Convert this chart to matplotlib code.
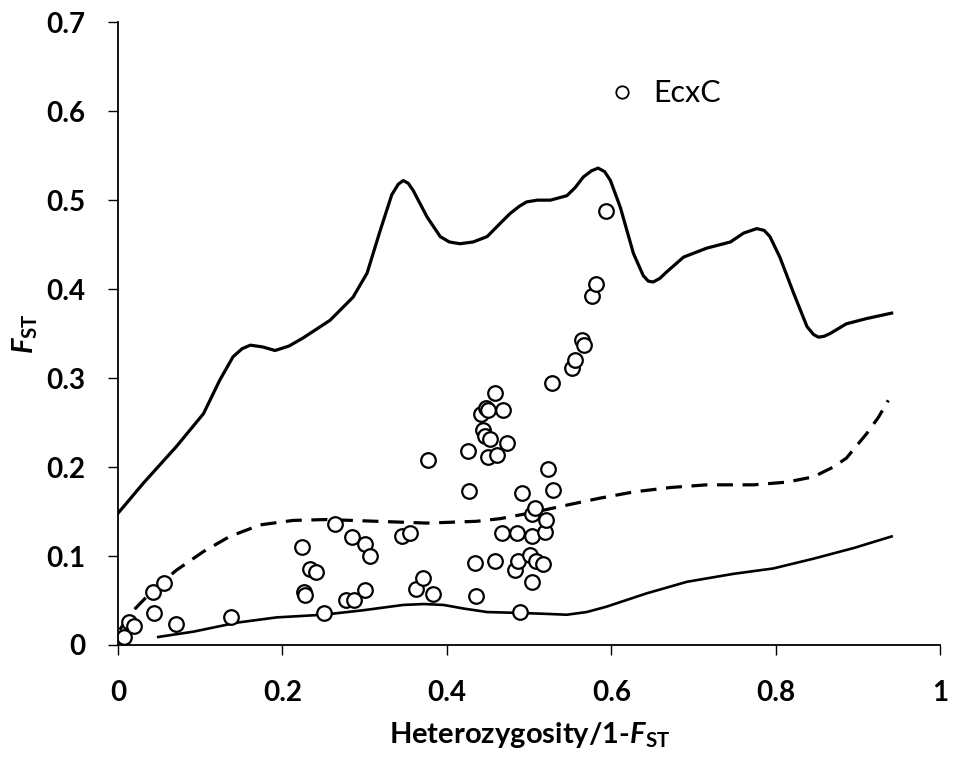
import matplotlib
matplotlib.use("Agg")
import matplotlib.pyplot as plt

plt.rcParams['font.family'] = ['Lato', 'DejaVu Sans']
plt.rcParams['mathtext.fontset'] = 'custom'
plt.rcParams['mathtext.rm'] = 'Lato:weight=bold'
plt.rcParams['mathtext.it'] = 'Lato:style=italic:weight=bold'
plt.rcParams['mathtext.bf'] = 'Lato:weight=bold'

# observed loci (EcxC)
pts_x = [0.007, 0.014, 0.019, 0.042, 0.056, 0.044, 0.070, 0.138, 0.224, 0.233,
         0.241, 0.226, 0.227, 0.251, 0.264, 0.285, 0.300, 0.306, 0.277, 0.287,
         0.300, 0.346, 0.355, 0.363, 0.371, 0.383, 0.377, 0.426, 0.427, 0.434,
         0.436, 0.442, 0.448, 0.450, 0.444, 0.447, 0.453, 0.450, 0.461, 0.458,
         0.468, 0.473, 0.459, 0.467, 0.485, 0.483, 0.487, 0.489, 0.491, 0.503,
         0.507, 0.503, 0.501, 0.503, 0.509, 0.517, 0.519, 0.521, 0.523, 0.529,
         0.528, 0.552, 0.556, 0.564, 0.567, 0.577, 0.582, 0.594]
pts_y = [0.009, 0.026, 0.021, 0.059, 0.070, 0.036, 0.024, 0.031, 0.110, 0.085,
         0.082, 0.060, 0.056, 0.036, 0.136, 0.121, 0.113, 0.100, 0.051, 0.051,
         0.062, 0.122, 0.126, 0.063, 0.075, 0.057, 0.208, 0.218, 0.173, 0.092,
         0.055, 0.260, 0.266, 0.264, 0.242, 0.235, 0.231, 0.211, 0.213, 0.283,
         0.264, 0.227, 0.094, 0.126, 0.126, 0.084, 0.094, 0.037, 0.171, 0.147,
         0.154, 0.122, 0.101, 0.071, 0.094, 0.091, 0.127, 0.141, 0.198, 0.174,
         0.295, 0.311, 0.320, 0.343, 0.337, 0.392, 0.406, 0.488]

# upper quantile
up_x = [0.0, 0.031, 0.071, 0.104, 0.124, 0.140, 0.151, 0.161, 0.176, 0.191,
        0.208, 0.225, 0.258, 0.286, 0.303, 0.319, 0.333, 0.341, 0.347, 0.353,
        0.359, 0.376, 0.392, 0.403, 0.416, 0.432, 0.449, 0.465, 0.477, 0.488,
        0.497, 0.510, 0.526, 0.546, 0.556, 0.566, 0.576, 0.584, 0.592, 0.599,
        0.611, 0.627, 0.639, 0.645, 0.651, 0.659, 0.667, 0.688, 0.716, 0.745,
        0.761, 0.777, 0.786, 0.793, 0.805, 0.822, 0.838, 0.846, 0.852, 0.859,
        0.866, 0.886, 0.911, 0.941]
up_y = [0.148, 0.182, 0.223, 0.260, 0.298, 0.324, 0.333, 0.337, 0.335, 0.331,
        0.336, 0.345, 0.365, 0.391, 0.418, 0.466, 0.506, 0.518, 0.522, 0.519,
        0.511, 0.481, 0.459, 0.453, 0.451, 0.453, 0.459, 0.474, 0.485, 0.493,
        0.498, 0.500, 0.500, 0.505, 0.514, 0.526, 0.533, 0.536, 0.532, 0.522,
        0.492, 0.440, 0.415, 0.409, 0.408, 0.412, 0.419, 0.436, 0.446, 0.453,
        0.463, 0.468, 0.466, 0.459, 0.436, 0.395, 0.358, 0.349, 0.346, 0.347,
        0.350, 0.361, 0.367, 0.373]

# median
md_x = [0.002, 0.019, 0.043, 0.071, 0.104, 0.136, 0.173, 0.213, 0.254, 0.315,
        0.376, 0.436, 0.465, 0.505, 0.550, 0.586, 0.627, 0.672, 0.716, 0.773,
        0.813, 0.846, 0.870, 0.886, 0.911, 0.925, 0.937]
md_y = [0.017, 0.039, 0.062, 0.084, 0.105, 0.122, 0.135, 0.140, 0.141, 0.139,
        0.137, 0.139, 0.142, 0.149, 0.158, 0.165, 0.172, 0.177, 0.180, 0.180,
        0.183, 0.189, 0.200, 0.210, 0.238, 0.256, 0.275]

# lower quantile
lo_x = [0.049, 0.092, 0.144, 0.193, 0.250, 0.298, 0.347, 0.372, 0.396, 0.420,
        0.449, 0.489, 0.520, 0.546, 0.570, 0.594, 0.643, 0.692, 0.749, 0.797,
        0.846, 0.895, 0.941]
lo_y = [0.009, 0.015, 0.025, 0.031, 0.034, 0.039, 0.045, 0.046, 0.045, 0.041,
        0.037, 0.036, 0.035, 0.034, 0.037, 0.043, 0.058, 0.071, 0.080, 0.086,
        0.097, 0.109, 0.122]

xticks = [0, 0.2, 0.4, 0.6, 0.8, 1.0]
xtick_labels = ['0', '0.2', '0.4', '0.6', '0.8', '1']
yticks = [0, 0.1, 0.2, 0.3, 0.4, 0.5, 0.6, 0.7]
ytick_labels = ['0', '0.1', '0.2', '0.3', '0.4', '0.5', '0.6', '0.7']

fig = plt.figure(figsize=(9.56, 7.66), dpi=100)
ax = fig.add_axes([0.1234, 0.158, 0.860, 0.813])

ax.plot(up_x, up_y, color='black', lw=2.3, solid_joinstyle='round')
ax.plot(md_x, md_y, color='black', lw=2.3, linestyle=(0, (5, 3)))
ax.plot(lo_x, lo_y, color='black', lw=1.9, solid_joinstyle='round')
ax.plot(pts_x, pts_y, linestyle='none', marker='o', markersize=10.5,
        markerfacecolor='white', markeredgecolor='black', markeredgewidth=1.6,
        label='EcxC')

ax.set_xlim(0, 1)
ax.set_ylim(0, 0.7)
ax.set_xticks(xticks)
ax.set_xticklabels(xtick_labels)
ax.set_yticks(yticks)
ax.set_yticklabels(ytick_labels)
ax.tick_params(axis='both', labelsize=20, direction='out', length=7.2, width=1)
ax.tick_params(axis='x', pad=18)
ax.tick_params(axis='y', pad=16)
for lab in ax.get_xticklabels() + ax.get_yticklabels():
    lab.set_fontweight('bold')

for s in ['top', 'right']:
    ax.spines[s].set_visible(False)
for s in ['left', 'bottom']:
    ax.spines[s].set_linewidth(1.3)

ax.set_xlabel(r'Heterozygosity/1-$F_{\mathrm{ST}}$', fontsize=21, fontweight='bold', labelpad=10)
ax.set_ylabel(r'$F_{\mathrm{ST}}$', fontsize=21, labelpad=5)

leg = ax.legend(loc='center left', bbox_to_anchor=(0.595, 0.886), frameon=False,
                fontsize=22, handlelength=1.0, handletextpad=0.52,
                borderaxespad=0, borderpad=0, markerscale=0.85)
for h in leg.legend_handles:
    h.set_markeredgewidth(1.3)

fig.savefig('out.png', dpi=100)
